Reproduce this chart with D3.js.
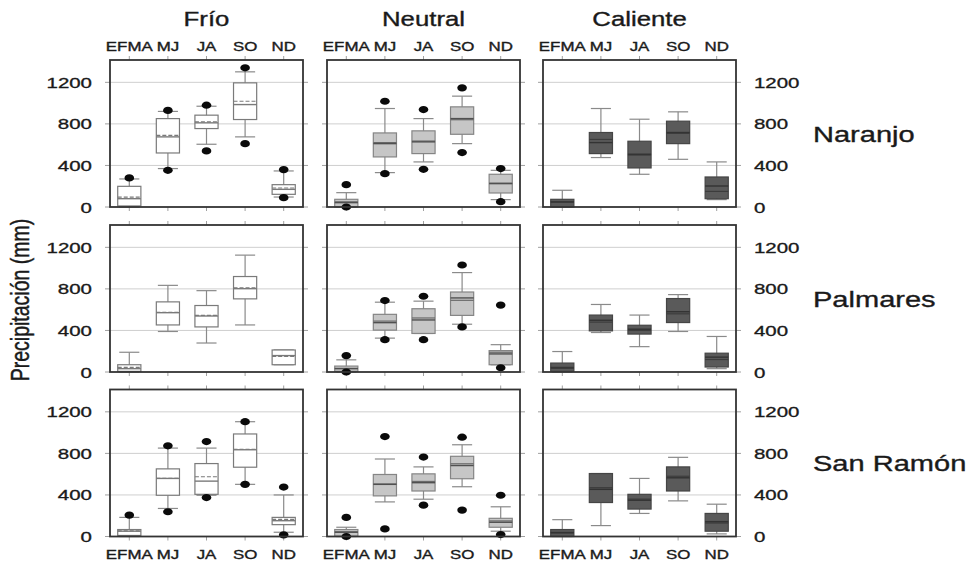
<!DOCTYPE html>
<html><head><meta charset="utf-8">
<script src="https://cdn.jsdelivr.net/npm/d3@7"></script>
<style>body{margin:0;background:#fff}svg{display:block}text{font-family:"Liberation Sans",Arial,sans-serif;fill:#1a1a1a;stroke:#1a1a1a;stroke-width:0.35px}</style>
</head><body><svg id="c" width="974" height="562"></svg>
<script>
// ---- data ----
const phases = ["Frío", "Neutral", "Caliente"];
const sites = ["Naranjo", "Palmares", "San Ramón"];
const periods = ["EFMA", "MJ", "JA", "SO", "ND"];
const yTicks = [0, 400, 800, 1200];
// indexed [site][phase][period]
const whiskerLow = [
  [[0,370,604,675,96],[0,331,434,610,71],[0,476,315,459,71]],
  [[0,390,279,453,70],[0,326,371,460,70],[0,380,244,390,32]],
  [[0,270,397,502,41],[0,333,359,479,51],[0,105,222,343,25]]
];
const q1 = [
  [[10,520,755,842,122],[0,482,514,700,135],[0,514,376,610,80]],
  [[6,453,434,704,70],[6,403,371,545,70],[6,396,365,476,48]],
  [[10,397,406,667,114],[3,391,438,556,89],[0,327,264,438,51]]
];
const median = [
  [[80,675,810,986,170],[42,610,627,851,225],[48,620,508,717,202]],
  [[32,571,539,802,158],[32,475,501,713,174],[38,498,412,580,143]],
  [[51,559,533,835,152],[41,502,518,683,137],[35,454,349,565,143]]
];
const mean = [
  [[96,690,820,1018,183],[50,620,635,840,230],[50,650,500,710,150]],
  [[45,575,545,810,150],[35,490,520,690,190],[45,480,400,560,120]],
  [[55,560,575,840,165],[45,505,530,700,150],[40,470,360,580,130]]
];
const q3 = [
  [[199,851,884,1195,215],[74,713,733,964,315],[74,717,633,826,289]],
  [[70,675,640,919,212],[57,555,609,770,206],[86,548,450,707,181]],
  [[67,651,702,987,184],[67,597,603,772,175],[67,606,406,670,222]]
];
const whiskerHigh = [
  [[270,920,970,1301,347],[138,948,851,1067,353],[161,948,845,916,434]],
  [[190,834,783,1125,212],[117,672,682,957,263],[197,650,548,745,342]],
  [[184,851,851,1105,400],[89,746,670,883,286],[162,606,559,762,311]]
];
const dotLow = [
  [[null,353,540,610,90],[0,321,363,524,51],[null,null,null,null,null]],
  [[null,null,null,null,null],[0,311,311,434,41],[null,null,null,null,null]],
  [[null,238,375,502,16],[0,73,302,254,19],[null,null,null,null,null]]
];
const dotHigh = [
  [[280,930,980,1340,360],[215,1018,938,1147,370],[null,null,null,null,null]],
  [[null,null,null,null,null],[158,688,729,1030,644],[null,null,null,null,null]],
  [[206,873,914,1105,476],[184,962,765,956,397],[null,null,null,null,null]]
];

// ---- styles ----
const phaseStyle = [
  {fill:"#ffffff", stroke:"#7a7a7a", med:"#7a7a7a", mean:"#7a7a7a", meanDash:"4,2"},
  {fill:"#c6c6c6", stroke:"#858585", med:"#505050", mean:"#6a6a6a", meanDash:null},
  {fill:"#5a5a5a", stroke:"#454545", med:"#333333", mean:"#3c3c3c", meanDash:null}
];
const SX = 1.32; // horizontal stretch of text

const svg = d3.select("#c");
const colX = [110, 327, 543], rowY = [60, 225, 389.5];
const pw = 193, ph = 147;

const x = d3.scaleBand().domain(periods).range([0, pw]);
const y = d3.scaleLinear().domain([0, 1415]).range([ph, 0]);
const bw = x.bandwidth();

function stext(g, tx, ty, str, size, anchor, extra) {
  return g.append("text")
    .attr("transform", `translate(${tx},${ty}) scale(${SX},1)` + (extra || ""))
    .attr("text-anchor", anchor).attr("font-size", size).text(str);
}

sites.forEach((site, r) => {
  phases.forEach((phase, c) => {
    const g = svg.append("g").attr("transform", `translate(${colX[c]},${rowY[r]})`);
    const st = phaseStyle[c];
    // grid
    g.selectAll(".grid").data(yTicks.filter(t => t > 0)).join("line")
      .attr("x1", 0).attr("x2", pw).attr("y1", d => y(d)).attr("y2", d => y(d))
      .attr("stroke", "#cfcfcf").attr("stroke-width", 1);
    // ticks
    const tk = g.append("g").attr("stroke", "#a0a0a0").attr("stroke-width", 1);
    yTicks.forEach(t => {
      tk.append("line").attr("x1", -5).attr("x2", 0).attr("y1", y(t)).attr("y2", y(t));
      tk.append("line").attr("x1", pw).attr("x2", pw + 5).attr("y1", y(t)).attr("y2", y(t));
    });
    periods.forEach(p => {
      const cx = x(p) + bw / 2;
      tk.append("line").attr("x1", cx).attr("x2", cx).attr("y1", -4).attr("y2", 0);
      tk.append("line").attr("x1", cx).attr("x2", cx).attr("y1", ph).attr("y2", ph + 4);
    });
    // boxes
    periods.forEach((p, i) => {
      const cx = x(p) + bw / 2;
      const boxW = bw * 0.6, capW = bw * 0.52;
      const wl = whiskerLow[r][c][i], wh = whiskerHigh[r][c][i];
      const a = q1[r][c][i], b = q3[r][c][i];
      g.append("line").attr("x1", cx).attr("x2", cx).attr("y1", y(wl)).attr("y2", y(wh))
        .attr("stroke", "#8a8a8a").attr("stroke-width", 1.2);
      [wl, wh].forEach(v => g.append("line").attr("x1", cx - capW / 2).attr("x2", cx + capW / 2)
        .attr("y1", y(v)).attr("y2", y(v)).attr("stroke", "#8a8a8a").attr("stroke-width", 1.2));
      g.append("rect").attr("x", cx - boxW / 2).attr("width", boxW)
        .attr("y", y(b)).attr("height", Math.max(1, y(a) - y(b)))
        .attr("fill", st.fill).attr("stroke", st.stroke).attr("stroke-width", 1.2);
      g.append("line").attr("x1", cx - boxW / 2).attr("x2", cx + boxW / 2)
        .attr("y1", y(mean[r][c][i])).attr("y2", y(mean[r][c][i]))
        .attr("stroke", st.mean).attr("stroke-width", 1.2)
        .attr("stroke-dasharray", st.meanDash);
      g.append("line").attr("x1", cx - boxW / 2).attr("x2", cx + boxW / 2)
        .attr("y1", y(median[r][c][i])).attr("y2", y(median[r][c][i]))
        .attr("stroke", st.med).attr("stroke-width", 1.4);
      [dotLow[r][c][i], dotHigh[r][c][i]].forEach(v => {
        if (v === null) return;
        g.append("ellipse").attr("cx", cx).attr("cy", y(v)).attr("rx", 4.8).attr("ry", 3.6).attr("fill", "#0a0a0a");
      });
    });
    // frame
    g.append("rect").attr("x", 0).attr("y", 0).attr("width", pw).attr("height", ph)
      .attr("fill", "none").attr("stroke", "#333").attr("stroke-width", 1.8);

    // labels
    if (c === 0) yTicks.forEach(t => stext(g, -18, y(t) + 5.5, t, 15.5, "end"));
    if (c === 2) yTicks.forEach(t => stext(g, pw + 18, y(t) + 5.5, t, 15.5, "start"));
    if (r === 0) periods.forEach(p => stext(g, x(p) + bw / 2, -9, p, 12.8, "middle"));
    if (r === 2) periods.forEach(p => stext(g, x(p) + bw / 2, ph + 22, p, 12.8, "middle"));
    if (r === 0) stext(g, pw / 2, -34, phase, 19.5, "middle");
    if (c === 2) stext(g, pw + 77, ph / 2 + 8, site, 22, "start");
  });
});
// y-axis title
svg.append("text")
  .attr("transform", `translate(29,300) scale(${SX},1) rotate(-90)`)
  .attr("text-anchor", "middle").attr("font-size", 19.5).text("Precipitación (mm)");
</script></body></html>
